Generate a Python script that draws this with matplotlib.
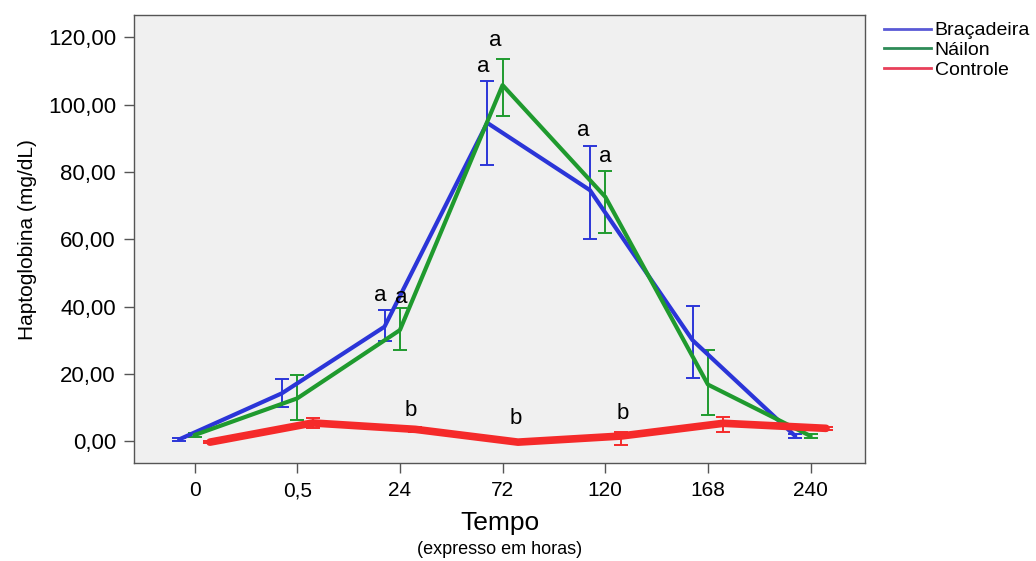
import matplotlib
matplotlib.use('Agg')
import matplotlib.pyplot as plt
import numpy as np

plt.rcParams['font.family'] = ['Liberation Sans', 'DejaVu Sans']

# categories on the time axis (hours)
tempo = ['0', '0,5', '24', '72', '120', '168', '240']

# means and error bar limits
bra_mean = [0.5, 14.2, 34.0, 94.6, 74.6, 30.0, 1.5]
bra_low = [0.0, 10.1, 29.8, 82.0, 60.0, 18.8, 1.0]
bra_high = [1.0, 18.4, 38.9, 107.0, 87.8, 40.3, 2.0]

nai_mean = [1.8, 12.7, 33.0, 105.8, 72.6, 16.8, 1.5]
nai_low = [1.3, 6.4, 27.0, 96.6, 62.0, 7.7, 1.0]
nai_high = [2.3, 19.6, 39.7, 113.7, 80.3, 27.0, 2.0]

con_mean = [-0.3, 5.4, 3.5, -0.3, 1.5, 5.3, 3.8]
con_low = [-0.6, 3.9, 2.8, -0.6, -1.2, 2.8, 3.3]
con_high = [0.0, 6.8, 4.2, 0.0, 2.8, 7.2, 4.3]

# significance letters: (label, x in category units, y value)
letras = ['a', 'a', 'a', 'a', 'a', 'a', 'b', 'b', 'b']
letras_x = [1.81, 2.01, 2.81, 2.93, 3.79, 4.00, 2.11, 3.13, 4.17]
letras_y = [43.4, 42.8, 111.4, 119.2, 92.4, 84.7, 9.2, 6.8, 8.3]

fig = plt.figure(figsize=(10.36, 5.61), dpi=100)
ax = fig.add_axes([0.1293, 0.1747, 0.7057, 0.7983])
ax.set_facecolor('#f0f0f0')

x = np.arange(len(tempo))
series = [
    ('Braçadeira', bra_mean, bra_low, bra_high, -0.15, '#2b35d8', 3.0, '#5a5ad6'),
    ('Náilon', nai_mean, nai_low, nai_high, 0.0, '#1f9a2e', 3.0, '#2e8b57'),
    ('Controle', con_mean, con_low, con_high, 0.15, '#f52a2a', 5.5, '#e8405a'),
]

handles = []
for name, m, lo, hi, off, col, lw, lcol in series:
    m = np.array(m)
    yerr = [m - np.array(lo), np.array(hi) - m]
    ax.errorbar(x + off, m, yerr=yerr, fmt='none', ecolor=col,
                elinewidth=1.4, capsize=5, capthick=1.4, zorder=2)
    ax.plot(x + off, m, color=col, lw=lw, solid_joinstyle='round',
            solid_capstyle='round', zorder=3)
    h, = ax.plot([], [], color=lcol, lw=2, label=name)
    handles.append(h)

for t, tx, ty in zip(letras, letras_x, letras_y):
    ax.text(tx, ty, t, ha='center', va='center', fontsize=16, color='black')

ax.set_xlim(-0.59, 6.53)
ax.set_ylim(-6.5, 126.6)
ax.set_xticks(x)
ax.set_xticklabels(tempo, fontsize=15)
yt = np.arange(0, 121, 20)
ax.set_yticks(yt)
ax.set_yticklabels([('%.2f' % v).replace('.', ',') for v in yt], fontsize=16)
ax.tick_params(axis='both', length=7, width=1, color='#555555', pad=6)
for s in ax.spines.values():
    s.set_color('#555555')
    s.set_linewidth(1)

ax.set_ylabel('Haptoglobina (mg/dL)', fontsize=15, labelpad=8)
fig.text(0.5 * (0.1293 + 0.835), 1 - 523 / 561, 'Tempo', ha='center',
         va='center', fontsize=19)
fig.text(0.5 * (0.1293 + 0.835), 1 - 550 / 561, '(expresso em horas)',
         ha='center', va='center', fontsize=13)

fig.legend(handles=handles, loc='upper left', bbox_to_anchor=(0.846, 0.975),
           frameon=False, fontsize=14, handlelength=2.4, handletextpad=0.2,
           labelspacing=0.1, borderaxespad=0)

fig.savefig('out.png', dpi=100, facecolor='white')
